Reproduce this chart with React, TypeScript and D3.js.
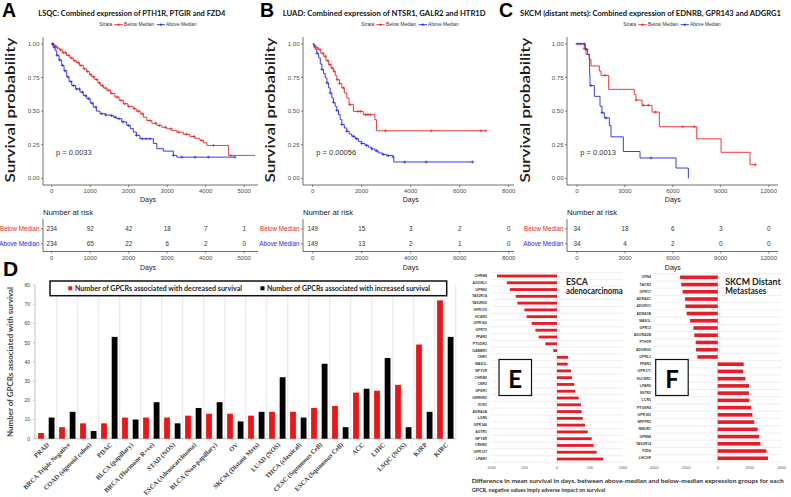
import React from "react";
import * as d3 from "d3";

const SANS = "'Liberation Sans', Arial, Helvetica, sans-serif";
const CAL = "Lato, 'Open Sans', sans-serif";
const SERIF = "'Liberation Serif', 'Times New Roman', serif";
const RED = "#ec2424";
const BLUE = "#2626e8";
const BARRED = "#f01414";
const ERED = "#e41e26";

// ---------- Panel A ----------
const aTitle = "LSQC: Combined expression of PTH1R, PTGIR and FZD4";
const aTicks = [0, 1000, 2000, 3000, 4000, 5000];
const aBelowT = [0, 60, 130, 200, 280, 380, 470, 560, 640, 720, 820, 900, 980, 1040, 1120, 1200, 1260, 1340, 1430, 1530, 1640, 1750, 1860, 1980, 2120, 2200, 2300, 2380, 2470, 2600, 2730, 2860, 2990, 3120, 3250, 3420, 3590, 3720, 3850, 3940, 4030, 4590];
const aBelowS = [1.0, 0.985, 0.97, 0.955, 0.935, 0.915, 0.895, 0.875, 0.86, 0.84, 0.815, 0.795, 0.772, 0.755, 0.735, 0.71, 0.69, 0.672, 0.655, 0.632, 0.605, 0.58, 0.555, 0.535, 0.518, 0.5, 0.481, 0.455, 0.43, 0.41, 0.394, 0.38, 0.369, 0.355, 0.344, 0.328, 0.312, 0.298, 0.283, 0.265, 0.245, 0.171];
const aBelowEnd = 5283;
const aBelowCens = [30, 90, 150, 230, 300, 360, 440, 520, 600, 690, 760, 850, 930, 1010, 1090, 1170, 1240, 1320, 1400, 1480, 1560, 1700, 1800, 1900, 2000, 2150, 2250, 2350, 2550, 2700, 2800, 2950, 3100, 3300, 3500, 3700, 3900, 4200, 4650];
const aAboveT = [0, 40, 90, 130, 190, 260, 320, 390, 450, 520, 620, 735, 820, 910, 1000, 1080, 1160, 1255, 1400, 1510, 1600, 1690, 1820, 1950, 2040, 2120, 2200, 2290, 2640, 2730, 2900, 3160, 3250];
const aAboveS = [1.0, 0.975, 0.95, 0.915, 0.88, 0.84, 0.8, 0.755, 0.72, 0.69, 0.665, 0.642, 0.615, 0.593, 0.56, 0.53, 0.5, 0.481, 0.472, 0.468, 0.455, 0.444, 0.42, 0.394, 0.37, 0.344, 0.32, 0.295, 0.26, 0.221, 0.203, 0.171, 0.158];
const aAboveEnd = 4761;
const aAboveCens = [20, 70, 140, 210, 280, 350, 420, 500, 570, 650, 720, 800, 880, 960, 1050, 1150, 1300, 1400, 1550, 1650, 1750, 1850, 2000, 2200, 2350, 2450, 2550, 3160, 3377, 3722, 4068, 4761];
const aRiskBelow = [234, 92, 42, 18, 7, 1];
const aRiskAbove = [234, 65, 22, 6, 2, 0];

// ---------- Panel B ----------
const bTitle = "LUAD: Combined expression of NTSR1, GALR2 and HTR1D";
const bTicks = [0, 2000, 4000, 6000, 8000];
const bBelowT = [0, 60, 130, 243, 330, 446, 540, 649, 750, 851, 920, 985, 1090, 1188, 1290, 1390, 1484, 1662, 2067, 2537, 2606];
const bBelowS = [1.0, 0.985, 0.97, 0.957, 0.93, 0.908, 0.875, 0.846, 0.82, 0.796, 0.765, 0.734, 0.705, 0.673, 0.635, 0.598, 0.548, 0.498, 0.474, 0.437, 0.354];
const bBelowEnd = 7066;
const bBelowCens = [100, 200, 300, 420, 520, 620, 700, 800, 880, 1000, 1100, 1250, 1520, 1850, 1950, 2150, 2250, 2350, 2972, 4836, 6863, 7066];
const bAboveT = [0, 50, 107, 170, 243, 310, 377, 440, 511, 580, 649, 715, 782, 850, 917, 985, 1054, 1120, 1188, 1290, 1390, 1490, 1593, 1730, 1865, 2000, 2132, 2270, 2404, 2540, 2675, 2840, 3012, 3283, 3308];
const bAboveS = [1.0, 0.975, 0.957, 0.93, 0.896, 0.85, 0.81, 0.78, 0.747, 0.71, 0.673, 0.635, 0.598, 0.565, 0.536, 0.505, 0.474, 0.437, 0.4, 0.375, 0.35, 0.33, 0.313, 0.295, 0.275, 0.26, 0.246, 0.232, 0.219, 0.205, 0.189, 0.178, 0.169, 0.159, 0.122];
const bAboveEnd = 6526;
const bAboveCens = [174, 377, 580, 715, 851, 985, 1188, 1390, 1662, 1796, 2000, 2202, 2404, 2606, 2878, 3081, 3283, 3754, 4633, 6526];
const bRiskBelow = [149, 15, 3, 2, 0];
const bRiskAbove = [149, 13, 2, 1, 0];

// ---------- Panel C ----------
const cTitle = "SKCM (distant mets): Combined expression of EDNRB, GPR143 and ADGRG1";
const cTicks = [0, 3000, 6000, 9000, 12000];
const cBelowT = [0, 457, 563, 772, 877, 1399, 1503, 1983, 3590, 3695, 4070, 4696, 5154, 7495, 9017, 10833];
const cBelowS = [1.0, 0.965, 0.923, 0.886, 0.836, 0.798, 0.766, 0.662, 0.625, 0.582, 0.543, 0.493, 0.384, 0.294, 0.194, 0.102];
const cBelowEnd = 11165;
const cBelowCens = [200, 457, 1753, 3695, 4153, 4466, 4905, 6617, 7343, 11165];
const cAboveT = [0, 522, 668, 772, 790, 814, 1085, 1440, 1565, 1710, 2023, 2129, 2900, 3945, 6200, 6970];
const cAboveS = [1.0, 0.96, 0.92, 0.886, 0.77, 0.69, 0.61, 0.537, 0.488, 0.45, 0.393, 0.309, 0.2, 0.152, 0.077, 0.0];
const cAboveEnd = 6970;
const cAboveCens = [0, 457, 603, 872, 1565, 1815, 4631];
const cRiskBelow = [34, 18, 6, 3, 0];
const cRiskAbove = [34, 4, 2, 0, 0];

const survTicks = [0, 0.25, 0.5, 0.75, 1];

// ---------- Panel D ----------
const dCategories = ["PRAD", "BRCA Triple Negative", "COAD (sigmoid colon)", "PDAC", "BLCA (papillary)", "BRCA (Hormone R+ve)", "STAD (NOS)", "ESCA (Adenocarcinoma)", "BLCA (Non-papillary)", "OV", "SKCM (Distant Mets)", "LUAD (NOS)", "THCA (classical)", "CESC (Squamous Cell)", "ESCA (Squamous Cell)", "ACC", "LIHC", "LSQC (NOS)", "KIRP", "KIRC"];
const dDecreased = [3, 6, 8, 8, 11, 11, 11, 12, 13, 13, 12, 14, 14, 16, 17, 24, 25, 28, 49, 72];
const dIncreased = [11, 14, 4, 53, 10, 19, 8, 16, 19, 9, 14, 32, 11, 39, 6, 26, 42, 6, 14, 53];
const dTicks = [0, 10, 20, 30, 40, 50, 60, 70, 80];

// ---------- Panel E ----------
const eGenes = ["CHRM4", "ADGRL1", "GPR82", "TAS2R14", "TAS2R20", "GPR176", "HCAR3", "GPR160", "GPR75", "FFAR2", "PTGDR2", "GABBR1", "CNR1", "MAS1L", "NPY5R", "CHRM2", "CNR2", "GPER1", "GNRHR2", "XCR1", "ADRA2A", "LGR6", "GPR146", "AGTR1", "NPY4R", "CRHR2", "GPR137", "LPAR1"];
const eDiff = [-909, -760, -712, -626, -600, -495, -460, -384, -328, -278, -177, -56, 167, 162, 212, 227, 263, 278, 328, 364, 374, 389, 424, 465, 525, 556, 601, 702];
const eTicks = [-1000, -500, 0, 500, 1000];

// ---------- Panel F ----------
const fGenes = ["OPN4", "TACR2", "GPR17", "ADRA2C", "ADGRV1", "ADRA1B", "MAS1L", "GPR12", "ADORA2B", "PTH1R", "ADGRG5", "OPRL1", "FFAR3", "GPR171", "SUCNR1", "LPAR6", "SSTR2", "CCR5", "PTGER4", "GPR183", "NPFFR2", "NMUR1", "GPR88", "TAS2R14", "FZD6", "LHCGR"];
const fDiff = [-2350, -2280, -2190, -2040, -2020, -1940, -1730, -1520, -1460, -1375, -1355, -1270, 1625, 1600, 1730, 1960, 1950, 1980, 2080, 2170, 2290, 2500, 2600, 2670, 3040, 3140];
const fTicks = [-4000, -2000, 0, 2000, 4000];

type Curve = { t: number[]; s: number[]; end: number; cens: number[]; color: string };
type KMCfg = {
  letter: string; letterX: number; title: string; titleX: number; titleLen: number; titleSize: number;
  axisX: number; xr: [number, number]; tMax: number; ticks: number[]; right: number;
  legendX: number; pText: string; pX: number; ylabX: number;
  below: Curve; above: Curve; riskBelow: number[]; riskAbove: number[];
};

const kmPanels: KMCfg[] = [
  {
    letter: "A", letterX: 2, title: aTitle, titleX: 38.3, titleLen: 187, titleSize: 8.2,
    axisX: 43, xr: [51.7, 244.2], tMax: 5000, ticks: aTicks, right: 258,
    legendX: 99.3, pText: "p = 0.0033", pX: 56, ylabX: 14.5,
    below: { t: aBelowT, s: aBelowS, end: aBelowEnd, cens: aBelowCens, color: RED },
    above: { t: aAboveT, s: aAboveS, end: aAboveEnd, cens: aAboveCens, color: BLUE },
    riskBelow: aRiskBelow, riskAbove: aRiskAbove,
  },
  {
    letter: "B", letterX: 260, title: bTitle, titleX: 282.7, titleLen: 203, titleSize: 8.2,
    axisX: 303, xr: [312.7, 508.7], tMax: 8000, ticks: bTicks, right: 514,
    legendX: 361.3, pText: "p = 0.00056", pX: 316.3, ylabX: 274.5,
    below: { t: bBelowT, s: bBelowS, end: bBelowEnd, cens: bBelowCens, color: RED },
    above: { t: bAboveT, s: bAboveS, end: bAboveEnd, cens: bAboveCens, color: BLUE },
    riskBelow: bRiskBelow, riskAbove: bRiskAbove,
  },
  {
    letter: "C", letterX: 499, title: cTitle, titleX: 520, titleLen: 261, titleSize: 7.7,
    axisX: 567, xr: [577, 768.7], tMax: 12000, ticks: cTicks, right: 778,
    legendX: 623.3, pText: "p = 0.0013", pX: 580.3, ylabX: 530,
    below: { t: cBelowT, s: cBelowS, end: cBelowEnd, cens: cBelowCens, color: RED },
    above: { t: cAboveT, s: cAboveS, end: cAboveEnd, cens: cAboveCens, color: BLUE },
    riskBelow: cRiskBelow, riskAbove: cRiskAbove,
  },
];

const plusPath = (x: number, y: number, h: number) => `M${x - h},${y}h${2 * h}M${x},${y - h}v${2 * h}`;

function KMPanel({ c }: { c: KMCfg }) {
  const x = d3.scaleLinear().domain([0, c.tMax]).range(c.xr);
  const y = d3.scaleLinear().domain([0, 1]).range([178.4, 43.9]);
  const line = d3.line<[number, number]>().x((d) => x(d[0])).y((d) => y(d[1])).curve(d3.curveStepAfter);
  const pts = (cv: Curve): [number, number][] => [
    ...cv.t.map((t, i) => [t, cv.s[i]] as [number, number]),
    [cv.end, cv.s[cv.s.length - 1]],
  ];
  const survAt = (cv: Curve, t: number) => cv.s[Math.max(0, d3.bisectRight(cv.t, t) - 1)];
  const top = 37, bottom = 185;
  const rTop = 219, rBottom = 251.5;
  const lx = c.legendX, ly = 24.7;
  const rows = [
    { label: "Below Median", color: RED, vals: c.riskBelow, y: 228.8 },
    { label: "Above Median", color: BLUE, vals: c.riskAbove, y: 243.8 },
  ];
  const xMid = (c.xr[0] + c.xr[1]) / 2;
  return (
    <g>
      <text x={c.letterX} y={16.5} fontFamily={SANS} fontWeight="bold" fontSize={19.5} fill="#000">{c.letter}</text>
      <text x={c.titleX} y={16.3} fontFamily={CAL} fontWeight="bold" fontSize={c.titleSize} fill="#111" textLength={c.titleLen} lengthAdjust="spacingAndGlyphs">{c.title}</text>
      <g fontFamily={SANS} fontSize={4.8} fill="#333">
        <text x={lx} y={ly} dominantBaseline="central">Strata</text>
        <line x1={lx + 15} x2={lx + 23.4} y1={ly} y2={ly} stroke={RED} strokeWidth={0.9} />
        <path d={plusPath(lx + 19.2, ly, 1.3)} stroke={RED} strokeWidth={0.8} />
        <text x={lx + 24.7} y={ly} dominantBaseline="central">Below Median</text>
        <line x1={lx + 57.4} x2={lx + 65.7} y1={ly} y2={ly} stroke={BLUE} strokeWidth={0.9} />
        <path d={plusPath(lx + 61.5, ly, 1.3)} stroke={BLUE} strokeWidth={0.8} />
        <text x={lx + 66.7} y={ly} dominantBaseline="central">Above Median</text>
      </g>
      <text transform={`translate(${c.ylabX},110) rotate(-90)`} textAnchor="middle" fontFamily={CAL} fontWeight={600} fontSize={13} fill="#1a1a1a" textLength={145} lengthAdjust="spacingAndGlyphs">Survival probability</text>
      <line x1={c.axisX} x2={c.axisX} y1={top} y2={bottom} stroke="#333" strokeWidth={0.7} />
      <line x1={c.axisX} x2={c.right} y1={bottom} y2={bottom} stroke="#333" strokeWidth={0.7} />
      {survTicks.map((v) => (
        <g key={v}>
          <line x1={c.axisX - 2} x2={c.axisX} y1={y(v)} y2={y(v)} stroke="#333" strokeWidth={0.6} />
          <text x={c.axisX - 3.5} y={y(v)} textAnchor="end" dominantBaseline="central" fontFamily={SANS} fontSize={6} fill="#4d4d4d">{v.toFixed(2)}</text>
        </g>
      ))}
      {c.ticks.map((t) => (
        <g key={t}>
          <line x1={x(t)} x2={x(t)} y1={bottom} y2={bottom + 2} stroke="#333" strokeWidth={0.6} />
          <text x={x(t)} y={190.8} textAnchor="middle" dominantBaseline="central" fontFamily={SANS} fontSize={6} fill="#4d4d4d">{t}</text>
        </g>
      ))}
      <text x={xMid} y={199.4} textAnchor="middle" dominantBaseline="central" fontFamily={SANS} fontSize={7} fill="#222">Days</text>
      {[c.below, c.above].map((cv, i) => (
        <g key={i}>
          <path d={line(pts(cv)) || ""} fill="none" stroke={cv.color} strokeWidth={0.9} />
          {cv.cens.map((t, j) => (
            <path key={j} d={plusPath(x(t), y(survAt(cv, t)), 1.5)} stroke={cv.color} strokeWidth={0.7} />
          ))}
        </g>
      ))}
      <text x={c.pX} y={152.8} dominantBaseline="central" fontFamily={SANS} fontSize={7.5} fill="#333">{c.pText}</text>
      <text x={c.axisX} y={212.3} dominantBaseline="central" fontFamily={SANS} fontSize={7.7} fill="#222">Number at risk</text>
      <line x1={c.axisX} x2={c.axisX} y1={rTop} y2={rBottom} stroke="#333" strokeWidth={0.7} />
      <line x1={c.axisX} x2={c.right} y1={rBottom} y2={rBottom} stroke="#333" strokeWidth={0.7} />
      {rows.map((r) => (
        <g key={r.label}>
          <line x1={c.axisX - 2} x2={c.axisX} y1={r.y} y2={r.y} stroke="#333" strokeWidth={0.6} />
          <text x={c.axisX - 3.5} y={r.y} textAnchor="end" dominantBaseline="central" fontFamily={SANS} fontSize={6.3} fill={r.color}>{r.label}</text>
          {r.vals.map((v, k) => (
            <text key={k} x={x(c.ticks[k])} y={r.y} textAnchor="middle" dominantBaseline="central" fontFamily={SANS} fontSize={6.3} fill="#333">{v}</text>
          ))}
        </g>
      ))}
      {c.ticks.map((t) => (
        <g key={"r" + t}>
          <line x1={x(t)} x2={x(t)} y1={rBottom} y2={rBottom + 2} stroke="#333" strokeWidth={0.6} />
          <text x={x(t)} y={258.3} textAnchor="middle" dominantBaseline="central" fontFamily={SANS} fontSize={6} fill="#4d4d4d">{t}</text>
        </g>
      ))}
      <text x={xMid} y={267.2} textAnchor="middle" dominantBaseline="central" fontFamily={SANS} fontSize={7} fill="#222">Days</text>
    </g>
  );
}

function PanelD() {
  const x = d3.scaleBand<string>().domain(dCategories).range([35.8, 455.8]);
  const sub = d3.scalePoint<string>().domain(["dec", "inc"]).range([5.2, 15.8]);
  const y = d3.scaleLinear().domain([0, 80]).range([438.7, 285]);
  const bw = 5.8;
  return (
    <g>
      <text x={3} y={276} fontFamily={SANS} fontWeight="bold" fontSize={21} fill="#000">D</text>
      {dCategories.map((c) => (
        <line key={"g" + c} x1={(x(c) as number) + x.bandwidth()} x2={(x(c) as number) + x.bandwidth()} y1={285} y2={y(0)} stroke="#d9d9d9" strokeWidth={0.7} />
      ))}
      <line x1={35} x2={35} y1={285} y2={y(0)} stroke="#a6a6a6" strokeWidth={0.7} />
      <line x1={35} x2={456} y1={y(0)} y2={y(0)} stroke="#a6a6a6" strokeWidth={0.7} />
      {dTicks.map((t) => (
        <g key={t}>
          <line x1={33} x2={35} y1={y(t)} y2={y(t)} stroke="#a6a6a6" strokeWidth={0.6} />
          <text x={30} y={y(t)} textAnchor="end" dominantBaseline="central" fontFamily={SANS} fontSize={5} fill="#404040">{t}</text>
        </g>
      ))}
      {dCategories.map((c, i) => {
        const x0 = x(c) as number;
        return (
          <g key={c}>
            <rect x={x0 + (sub("dec") as number) - bw / 2} y={y(dDecreased[i])} width={bw} height={y(0) - y(dDecreased[i])} fill={BARRED} />
            <rect x={x0 + (sub("inc") as number) - bw / 2} y={y(dIncreased[i])} width={bw} height={y(0) - y(dIncreased[i])} fill="#000" />
            <text transform={`translate(${x0 + x.bandwidth() / 2 + 1.5},443.5) rotate(-45)`} textAnchor="end" dominantBaseline="central" fontFamily={SERIF} fontWeight="bold" fontSize={6.6} fill="#404040">{c}</text>
          </g>
        );
      })}
      <text transform="translate(10,362) rotate(-90)" textAnchor="middle" dominantBaseline="central" fontFamily={CAL} fontWeight="bold" fontSize={7.5} fill="#404040" textLength={150} lengthAdjust="spacingAndGlyphs">Number of GPCRs associated with survival</text>
      <rect x={50} y={281} width={396.7} height={14.7} fill="#fff" stroke="#111" strokeWidth={1.5} />
      <rect x={68.3} y={286.3} width={4} height={4} fill={BARRED} />
      <text x={75} y={288.4} dominantBaseline="central" fontFamily={CAL} fontWeight="bold" fontSize={7.6} fill="#222" textLength={167} lengthAdjust="spacingAndGlyphs">Number of GPCRs associated with decreased survival</text>
      <rect x={260.5} y={286.3} width={4} height={4} fill="#000" />
      <text x={267} y={288.4} dominantBaseline="central" fontFamily={CAL} fontWeight="bold" fontSize={7.6} fill="#222" textLength={163} lengthAdjust="spacingAndGlyphs">Number of GPCRs associated with increased survival</text>
    </g>
  );
}

type HBarCfg = {
  genes: string[]; vals: number[]; ticks: number[]; domain: [number, number]; xr: [number, number];
  yr: [number, number]; padIn: number; padOut: number; labelX: number; boxX: number; letter: string;
  name1: string; name2: string; nameX: number; name2Len: number; tickFont: number;
};

const hPanels: HBarCfg[] = [
  {
    genes: eGenes, vals: eDiff, ticks: eTicks, domain: [-1000, 1000], xr: [491, 623],
    yr: [272.6, 462.4], padIn: 0.58, padOut: 0.29, labelX: 487, boxX: 499, letter: "E",
    name1: "ESCA", name2: "adenocarcinoma", nameX: 566, name2Len: 56.7, tickFont: 3.8,
  },
  {
    genes: fGenes, vals: fDiff, ticks: fTicks, domain: [-4000, 4000], xr: [653.7, 781.7],
    yr: [273.7, 461.9], padIn: 0.5, padOut: 0.25, labelX: 651, boxX: 655.7, letter: "F",
    name1: "SKCM Distant", name2: "Metastases", nameX: 725.3, name2Len: 41, tickFont: 3.8,
  },
];

function HBarPanel({ c }: { c: HBarCfg }) {
  const x = d3.scaleLinear().domain(c.domain).range(c.xr);
  const y = d3.scaleBand<string>().domain(c.genes).range(c.yr).paddingInner(c.padIn).paddingOuter(c.padOut);
  const step = y.step();
  const bounds = d3.range(c.genes.length + 1).map((i) => c.yr[0] + i * step);
  return (
    <g>
      {bounds.map((b, i) => (
        <line key={i} x1={c.xr[0]} x2={c.xr[1]} y1={b} y2={b} stroke="#e2e2e2" strokeWidth={0.6} />
      ))}
      <line x1={x(0)} x2={x(0)} y1={c.yr[0]} y2={c.yr[1]} stroke="#e6c6c6" strokeWidth={0.8} />
      {c.genes.map((g, i) => (
        <g key={g}>
          <rect x={Math.min(x(0), x(c.vals[i]))} y={y(g) as number} width={Math.abs(x(c.vals[i]) - x(0))} height={y.bandwidth()} fill={ERED} />
          <text x={c.labelX} y={(y(g) as number) + y.bandwidth() / 2} textAnchor="end" dominantBaseline="central" fontFamily={SANS} fontWeight="bold" fontSize={3.5} fill="#404040">{g}</text>
        </g>
      ))}
      {c.ticks.map((t) => (
        <text key={t} x={x(t)} y={468.3} textAnchor="middle" dominantBaseline="central" fontFamily={SANS} fontSize={c.tickFont} fill="#595959">{t}</text>
      ))}
      <rect x={c.boxX} y={359.5} width={32.5} height={36} fill="#fff" stroke="#111" strokeWidth={1.2} />
      <text x={c.boxX + 16.25} y={378} textAnchor="middle" dominantBaseline="central" fontFamily={CAL} fontWeight="bold" fontSize={24} fill="#000">{c.letter}</text>
      <text x={c.nameX} y={281} dominantBaseline="central" fontFamily={CAL} fontWeight="bold" fontSize={8.8} fill="#222">{c.name1}</text>
      <text x={c.nameX} y={290.6} dominantBaseline="central" fontFamily={CAL} fontWeight="bold" fontSize={8.8} fill="#222" textLength={c.name2Len} lengthAdjust="spacingAndGlyphs">{c.name2}</text>
    </g>
  );
}

export default function App() {
  return (
    <svg width={791} height={497} viewBox="0 0 791 497" style={{ position: "absolute", left: 0, top: 0, background: "#fff" }}>
      <rect x={0} y={0} width={791} height={497} fill="#fff" />
      {kmPanels.map((p) => (
        <KMPanel key={p.letter} c={p} />
      ))}
      <PanelD />
      {hPanels.map((p) => (
        <HBarPanel key={p.letter} c={p} />
      ))}
      <text x={471.7} y={480.7} dominantBaseline="central" fontFamily={CAL} fontWeight="bold" fontSize={6.1} fill="#333" textLength={312} lengthAdjust="spacingAndGlyphs">Difference in mean survival in days, between above-median and below-median expression groups for each</text>
      <text x={471.7} y={489.3} dominantBaseline="central" fontFamily={CAL} fontWeight="bold" fontSize={6.1} fill="#333" textLength={133.3} lengthAdjust="spacingAndGlyphs">GPCR, negative values imply adverse impact on survival</text>
    </svg>
  );
}
